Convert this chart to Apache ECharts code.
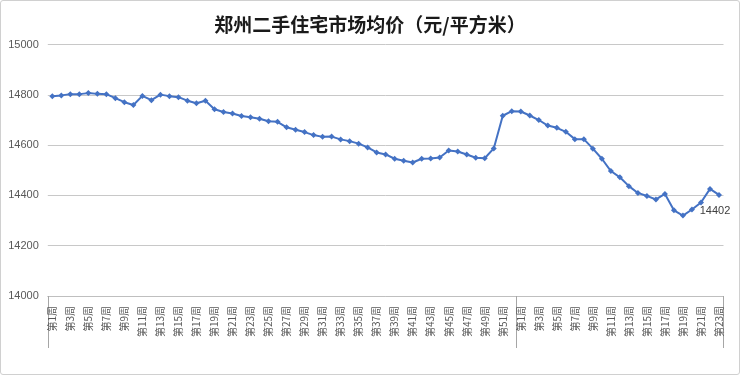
<!DOCTYPE html>
<html>
<head>
<meta charset="utf-8">
<script src="https://cdn.jsdelivr.net/npm/echarts@6/dist/echarts.min.js"></script>
<style>
html,body{margin:0;padding:0;background:#fff;}
#wrap{position:absolute;left:0;top:0;width:738px;height:373px;border:1px solid #d0d0d0;border-radius:3px;}
#chart{width:738px;height:373px;}
</style>
</head>
<body>
<div id="wrap"><div id="chart"></div></div>
<script>
// Categories: year 1 weeks 1..52, year 2 weeks 1..23
const weeksYear1 = ["第1周","第2周","第3周","第4周","第5周","第6周","第7周","第8周","第9周","第10周",
  "第11周","第12周","第13周","第14周","第15周","第16周","第17周","第18周","第19周","第20周",
  "第21周","第22周","第23周","第24周","第25周","第26周","第27周","第28周","第29周","第30周",
  "第31周","第32周","第33周","第34周","第35周","第36周","第37周","第38周","第39周","第40周",
  "第41周","第42周","第43周","第44周","第45周","第46周","第47周","第48周","第49周","第50周",
  "第51周","第52周"];
const weeksYear2 = ["第1周","第2周","第3周","第4周","第5周","第6周","第7周","第8周","第9周","第10周",
  "第11周","第12周","第13周","第14周","第15周","第16周","第17周","第18周","第19周","第20周",
  "第21周","第22周","第23周"];
const pricesYear1 = [14795,14798,14803,14803,14807,14804,14803,14787,14771,14760,
  14796,14779,14801,14795,14791,14777,14767,14777,14743,14732,
  14726,14716,14711,14705,14695,14693,14671,14661,14652,14640,
  14633,14634,14623,14616,14606,14591,14571,14563,14546,14538,
  14531,14546,14547,14551,14579,14575,14563,14550,14548,14587,
  14717,14735];
const pricesYear2 = [14734,14718,14700,14678,14669,14653,14624,14624,14586,14546,
  14497,14472,14437,14410,14398,14384,14406,14341,14320,14344,
  14372,14426,14402];
const yTicks = {min:14000, max:15000, interval:200};
const titleText = "郑州二手住宅市场均价（元/平方米）";

const categories = weeksYear1.concat(weeksYear2);
const values = pricesYear1.concat(pricesYear2);
const yearBoundary = weeksYear1.length;
const lastIdx = values.length - 1;

const chart = echarts.init(document.getElementById('chart'), null, {renderer:'canvas'});
chart.setOption({
  animation:false,
  title:{
    text:titleText, left:'center', top:9,
    textStyle:{fontFamily:'"Noto Sans CJK SC", sans-serif', fontSize:19, fontWeight:'bold', color:'#1a1a1a'}
  },
  grid:{left:46.8, right:15.5, top:43.6, bottom:78},
  xAxis:{
    type:'category',
    data:categories,
    boundaryGap:true,
    axisLine:{show:true, lineStyle:{color:'#bfbfbf', width:1}},
    axisTick:{show:true, length:52, interval:function(i){return i===0 || i===yearBoundary;}, lineStyle:{color:'#a6a6a6', width:1}},
    axisLabel:{interval:1, rotate:90, margin:10, fontSize:10, color:'#595959', fontFamily:'"Noto Sans CJK SC", sans-serif'},
    splitLine:{show:false}
  },
  yAxis:{
    type:'value', min:yTicks.min, max:yTicks.max, interval:yTicks.interval,
    axisLine:{show:false}, axisTick:{show:false},
    axisLabel:{fontSize:11, color:'#595959', margin:9, fontFamily:'Arial, "Liberation Sans", sans-serif',
      formatter:function(v){return String(v);}},
    splitLine:{lineStyle:{color:'#c8c8c8', width:1}}
  },
  series:[{
    type:'line',
    data:values.map(function(v,i){
      if(i===lastIdx){
        return {value:v, label:{show:true, position:'bottom', distance:8, offset:[-4,0], fontSize:11, color:'#404040', fontFamily:'Arial, "Liberation Sans", sans-serif'}};
      }
      return v;
    }),
    symbol:'diamond', symbolSize:6,
    lineStyle:{color:'#4472C4', width:2},
    itemStyle:{color:'#4472C4'}
  }]
});
</script>
</body>
</html>
